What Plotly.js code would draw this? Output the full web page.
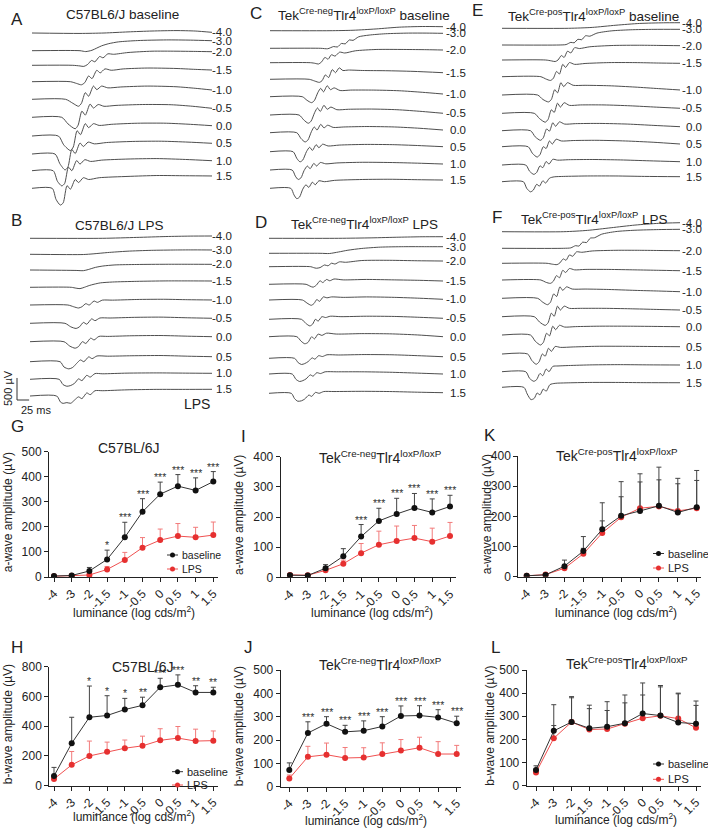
<!DOCTYPE html>
<html><head><meta charset="utf-8">
<script src="https://cdn.plot.ly/plotly-3.0.1.min.js"></script>
<style>html,body{margin:0;padding:0;background:#fff}#chart{width:708px;height:828px}</style>
</head><body><div id="chart"></div>
<script>
// ================= DATA =================
const luminance = ['-4','-3','-2','-1.5','-1','-0.5','0','0.5','1','1.5'];
const flashLabels = ['-4.0','-3.0','-2.0','-1.5','-1.0','-0.5','0.0','0.5','1.0','1.5'];

// a-wave amplitude (µV), mean and upper SD
const c57_a_base = [4, 6, 24, 70, 158, 260, 330, 362, 345, 380];
const c57_a_base_err = [3, 4, 14, 37, 60, 52, 48, 46, 50, 40];
const c57_a_lps = [3, 5, 8, 30, 68, 117, 147, 163, 158, 167];
const c57_a_lps_err = [2, 3, 5, 12, 30, 40, 44, 50, 40, 52];
const c57_a_stars = ['', '', '', '*', '***', '***', '***', '***', '***', '***'];

const neg_a_base = [7, 6, 30, 70, 135, 187, 210, 230, 215, 235];
const neg_a_base_err = [5, 4, 12, 25, 40, 42, 52, 48, 45, 37];
const neg_a_lps = [8, 7, 23, 45, 80, 108, 120, 130, 118, 137];
const neg_a_lps_err = [4, 3, 5, 12, 32, 45, 50, 42, 45, 45];
const neg_a_stars = ['', '', '', '', '***', '***', '***', '***', '***', '***'];

const pos_a_base = [3, 6, 35, 85, 157, 202, 218, 235, 213, 230];
const pos_a_base_err = [2, 3, 20, 48, 88, 113, 123, 128, 113, 122];
const pos_a_lps = [3, 7, 28, 76, 145, 197, 227, 233, 218, 227];
const pos_a_lps_err = [2, 3, 8, 18, 40, 68, 87, 88, 90, 92];

// b-wave amplitude (µV)
const c57_b_base = [65, 285, 460, 472, 512, 540, 662, 678, 627, 627];
const c57_b_base_err = [58, 175, 210, 133, 75, 55, 60, 67, 45, 35];
const c57_b_lps = [45, 140, 200, 228, 252, 268, 305, 320, 300, 303];
const c57_b_lps_err = [8, 90, 100, 65, 55, 65, 78, 78, 80, 65];
const c57_b_stars = ['', '', '*', '*', '*', '**', '***', '***', '**', '**'];

const neg_b_base = [72, 230, 270, 235, 240, 258, 303, 305, 297, 272];
const neg_b_base_err = [30, 48, 30, 28, 42, 42, 43, 42, 33, 30];
const neg_b_lps = [35, 128, 137, 123, 125, 140, 155, 167, 140, 140];
const neg_b_lps_err = [15, 45, 50, 45, 42, 48, 47, 45, 53, 37];
const neg_b_stars = ['', '***', '***', '***', '***', '***', '***', '***', '***', '***'];

const pos_b_base = [68, 237, 275, 248, 255, 270, 312, 303, 273, 268];
const pos_b_base_err = [18, 113, 110, 100, 108, 122, 132, 130, 127, 98];
const pos_b_lps = [57, 205, 275, 243, 245, 268, 292, 302, 290, 250];
const pos_b_lps_err = [15, 55, 105, 90, 80, 90, 100, 125, 107, 97];

// ERG waveforms: [time (ms), amplitude (µV)] one array per flash intensity (-4.0 ... 1.5)
const ergA = [
 [[0,0],[100,-10],[150,0],[200,25],[250,45],[300,55],[340,45],[375,15]],
 [[0,0],[100,0],[112,-20],[125,10],[135,60],[145,110],[160,160],[180,200],[220,230],[280,245],[330,240],[375,227]],
 [[0,0],[85,0],[100,-15],[108,-25],[116,20],[124,110],[131,80],[141,200],[148,170],[158,260],[170,250],[200,290],[250,320],[300,320],[340,315],[375,309]],
 [[0,0],[80,0],[93,-40],[103,-70],[110,-20],[118,130],[125,70],[135,260],[142,200],[152,290],[165,260],[190,290],[240,310],[300,300],[340,280],[375,265]],
 [[0,0],[70,0],[85,-90],[97,-158],[103,-90],[111,150],[118,70],[128,300],[135,220],[145,300],[158,260],[185,280],[240,300],[300,285],[340,250],[375,211]],
 [[0,0],[62,0],[75,-150],[90,-260],[96,-180],[104,140],[111,50],[121,300],[128,210],[138,290],[150,250],[175,270],[230,290],[290,285],[335,250],[375,204]],
 [[0,0],[55,0],[66,-200],[80,-330],[86,-250],[94,120],[101,30],[111,280],[118,190],[128,280],[140,240],[165,265],[220,290],[280,290],[330,265],[375,234]],
 [[0,0],[48,0],[58,-220],[69,-362],[75,-290],[83,100],[90,10],[100,250],[107,170],[117,270],[130,230],[155,260],[210,285],[270,290],[325,270],[375,243]],
 [[0,0],[44,0],[53,-240],[62,-345],[68,-290],[76,80],[83,0],[93,230],[100,150],[110,250],[122,210],[145,240],[200,265],[260,275],[320,255],[375,227]],
 [[0,0],[42,0],[50,-250],[59,-380],[65,-330],[73,60],[80,-20],[90,200],[97,130],[107,240],[118,200],[140,240],[200,270],[260,290],[320,285],[375,280]]
];
const ergB = [
 [[0,0],[150,0],[220,20],[280,40],[330,50],[375,52]],
 [[0,0],[110,-5],[130,10],[160,40],[200,70],[250,90],[300,98],[340,100],[375,98]],
 [[0,0],[95,-10],[110,-15],[120,10],[135,60],[150,90],[175,115],[220,125],[280,130],[330,130],[375,129]],
 [[0,0],[85,0],[95,-20],[103,-30],[112,0],[122,40],[132,70],[145,100],[170,120],[220,135],[280,145],[330,145],[375,143]],
 [[0,0],[78,0],[90,-40],[100,-68],[107,-40],[115,30],[122,0],[132,90],[139,60],[149,110],[170,110],[220,125],[275,130],[325,120],[375,114]],
 [[0,0],[72,0],[84,-80],[95,-117],[102,-80],[110,20],[117,-20],[127,100],[134,60],[144,120],[165,120],[215,135],[270,140],[325,125],[375,114]],
 [[0,0],[70,0],[82,-100],[93,-147],[100,-110],[108,0],[115,-40],[125,80],[132,40],[142,120],[160,120],[210,135],[270,140],[325,125],[375,114]],
 [[0,0],[62,0],[70,-120],[80,-163],[88,-130],[96,-40],[104,40],[111,0],[121,110],[128,70],[138,130],[160,125],[210,135],[270,140],[325,125],[375,114]],
 [[0,0],[60,0],[68,-120],[76,-158],[84,-140],[92,-90],[100,10],[107,-30],[117,90],[124,50],[134,130],[150,125],[200,140],[260,145],[320,140],[375,136]],
 [[0,0],[55,0],[63,-140],[68,-167],[76,-150],[84,-165],[92,-90],[100,-20],[107,-60],[117,70],[124,30],[134,120],[150,120],[200,140],[260,150],[320,150],[375,152]]
];
const ergC = [
 [[0,0],[130,0],[180,10],[230,40],[280,80],[330,95],[375,91]],
 [[0,0],[110,0],[125,-10],[138,40],[146,30],[155,110],[163,100],[172,190],[180,180],[192,260],[215,300],[250,330],[300,345],[340,345],[375,340]],
 [[0,0],[88,0],[98,-15],[105,-30],[112,20],[119,120],[126,80],[133,180],[141,150],[151,240],[162,220],[185,270],[230,300],[290,300],[340,295],[375,288]],
 [[0,0],[85,0],[97,-40],[107,-70],[113,-30],[120,100],[127,40],[135,220],[142,150],[150,260],[158,200],[170,210],[200,200],[250,195],[310,180],[375,150]],
 [[0,0],[70,0],[80,-80],[90,-135],[96,-90],[104,100],[110,190],[116,110],[124,250],[131,160],[139,200],[152,140],[175,150],[225,150],[280,135],[330,100],[375,61]],
 [[0,0],[63,0],[73,-110],[83,-187],[89,-140],[97,60],[103,160],[109,80],[117,220],[124,130],[132,180],[145,120],[170,130],[220,135],[275,120],[330,80],[375,39]],
 [[0,0],[58,0],[67,-130],[76,-210],[82,-170],[90,30],[96,130],[102,60],[110,190],[117,110],[125,170],[137,120],[160,130],[210,140],[270,130],[325,100],[375,61]],
 [[0,0],[50,0],[58,-150],[65,-230],[71,-190],[79,0],[86,100],[92,30],[100,160],[106,90],[114,170],[126,130],[150,150],[205,165],[265,160],[320,140],[375,114]],
 [[0,0],[48,0],[55,-140],[61,-215],[67,-180],[74,-10],[81,90],[87,30],[95,150],[101,90],[109,170],[121,140],[145,160],[200,175],[260,170],[320,155],[375,136]],
 [[0,0],[45,0],[52,-150],[58,-235],[64,-200],[71,-20],[78,80],[84,20],[92,140],[98,80],[106,170],[118,150],[140,180],[200,200],[260,205],[320,195],[375,188]]
];
const ergD = [
 [[0,0],[150,0],[220,10],[280,25],[330,35],[375,36]],
 [[0,0],[110,0],[130,-5],[150,30],[170,70],[200,110],[240,140],[290,150],[340,150],[375,150]],
 [[0,0],[90,0],[96,-20],[102,-35],[110,-20],[120,40],[127,20],[135,80],[142,60],[152,110],[165,100],[200,140],[260,145],[320,135],[375,129]],
 [[0,0],[80,0],[88,-40],[95,-65],[102,-20],[110,80],[116,40],[124,110],[131,80],[140,120],[160,100],[210,110],[270,100],[325,90],[375,75]],
 [[0,0],[72,0],[82,-70],[91,-120],[97,-80],[103,10],[109,-30],[117,70],[125,50],[135,70],[160,60],[210,70],[270,60],[325,40],[375,16]],
 [[0,0],[70,0],[79,-90],[88,-150],[94,-110],[100,0],[106,-40],[114,60],[122,40],[132,70],[155,60],[210,70],[270,65],[325,45],[375,23]],
 [[0,0],[60,0],[69,-100],[77,-160],[84,-130],[92,0],[98,-50],[106,60],[114,30],[124,80],[145,60],[200,70],[260,65],[320,40],[375,0]],
 [[0,0],[55,0],[63,-100],[70,-140],[77,-120],[85,-70],[93,10],[99,-20],[107,60],[115,40],[125,80],[150,75],[205,85],[265,80],[320,60],[375,36]],
 [[0,0],[50,0],[58,-120],[66,-170],[73,-150],[80,-110],[89,-20],[95,-50],[103,30],[111,10],[121,50],[145,50],[200,50],[260,40],[320,20],[375,0]],
 [[0,0],[48,0],[55,-120],[62,-180],[70,-170],[77,-130],[86,-40],[92,-70],[100,20],[108,0],[118,40],[140,40],[200,45],[260,40],[320,25],[375,14]]
];
const ergE = [
 [[0,0],[140,0],[190,20],[240,70],[290,110],[340,125],[375,127]],
 [[0,0],[120,0],[135,10],[145,60],[152,50],[160,130],[168,120],[176,210],[185,200],[200,270],[230,320],[270,345],[320,355],[375,356]],
 [[0,0],[92,0],[104,-20],[112,-35],[118,0],[125,100],[131,60],[138,200],[145,160],[153,280],[163,260],[185,300],[235,330],[290,335],[335,330],[375,325]],
 [[0,0],[82,0],[92,-50],[102,-85],[108,-40],[115,120],[121,60],[128,280],[134,210],[142,320],[153,280],[175,300],[225,320],[280,320],[330,310],[375,304]],
 [[0,0],[75,0],[86,-100],[98,-157],[104,-100],[111,120],[117,50],[124,280],[130,190],[138,280],[150,220],[175,220],[225,210],[280,180],[330,145],[375,114]],
 [[0,0],[68,0],[79,-120],[91,-202],[97,-140],[104,80],[110,20],[117,230],[123,140],[131,240],[142,180],[165,190],[215,190],[270,170],[325,140],[375,114]],
 [[0,0],[60,0],[70,-140],[81,-218],[87,-160],[94,40],[100,-10],[107,180],[113,100],[121,200],[132,150],[155,160],[205,165],[265,150],[320,120],[375,91]],
 [[0,0],[55,0],[64,-150],[74,-235],[80,-180],[87,0],[93,-40],[100,130],[106,60],[114,170],[125,130],[150,140],[200,145],[260,130],[320,100],[375,61]],
 [[0,0],[50,0],[58,-140],[67,-213],[73,-170],[80,-20],[86,-60],[93,80],[99,20],[107,130],[117,110],[140,120],[190,125],[250,115],[310,95],[375,75]],
 [[0,0],[45,0],[52,-150],[60,-230],[66,-190],[73,-60],[79,-100],[86,20],[92,-30],[100,80],[110,110],[130,120],[180,130],[240,130],[300,120],[375,114]]
];
const ergF = [
 [[0,0],[130,0],[180,30],[230,90],[280,150],[330,190],[375,204]],
 [[0,0],[130,0],[145,10],[155,60],[162,50],[170,140],[178,130],[186,230],[195,240],[210,320],[240,380],[280,410],[330,425],[375,431]],
 [[0,0],[95,0],[106,-20],[116,-30],[122,10],[129,100],[135,70],[142,190],[149,160],[157,260],[168,250],[190,280],[240,295],[290,295],[335,290],[375,286]],
 [[0,0],[82,0],[92,-50],[102,-76],[108,-30],[115,100],[121,50],[128,220],[134,170],[142,260],[153,230],[175,240],[225,240],[280,230],[330,220],[375,211]],
 [[0,0],[75,0],[86,-90],[96,-145],[102,-90],[109,100],[115,40],[122,260],[128,180],[136,260],[148,210],[175,210],[225,200],[280,180],[330,165],[375,150]],
 [[0,0],[68,0],[79,-120],[91,-197],[97,-140],[104,80],[110,10],[117,240],[123,150],[131,240],[142,190],[165,190],[215,190],[270,180],[325,165],[375,152]],
 [[0,0],[60,0],[70,-140],[81,-227],[87,-170],[94,40],[100,-20],[107,200],[113,120],[121,220],[132,180],[155,190],[205,200],[265,200],[320,195],[375,188]],
 [[0,0],[54,0],[63,-150],[72,-233],[78,-180],[85,0],[91,-50],[98,130],[104,60],[112,170],[123,150],[150,160],[200,175],[260,175],[320,170],[375,166]],
 [[0,0],[50,0],[58,-150],[67,-218],[73,-180],[80,-40],[86,-90],[93,60],[99,0],[107,120],[118,130],[140,140],[190,155],[250,160],[310,155],[375,152]],
 [[0,0],[46,0],[53,-150],[61,-280],[68,-250],[74,-130],[80,-170],[87,-40],[93,-90],[101,60],[112,90],[135,100],[185,110],[245,110],[305,105],[375,104]]
];

// ================= LAYOUT / STYLE =================
const W = 708, H = 828;
const FONT = 'Arial, "Liberation Sans", sans-serif';
const fx = px => px / W;
const fy = px => 1 - px / H;
const UV_PER_PX = 22.7;   // trace vertical scale
const T_END = 375;        // ms shown per trace row
const TEK_NEG = 'Tek<sup>Cre-neg</sup>Tlr4<sup>loxP/loxP</sup>';
const TEK_POS = 'Tek<sup>Cre-pos</sup>Tlr4<sup>loxP/loxP</sup>';

const ergPanels = [
 {wave: ergA, letter:'A', letterXY:[9,20], title:'C57BL6/J baseline', titleXY:[122,15],
  x0:32, x1:212, xL:20, top:15, bottom:212, labelRight:234,
  rows:[33,50.7,65.3,81.7,99.3,117.3,136,154,170.7,188.3]},
 {wave: ergB, letter:'B', letterXY:[9,220], title:'C57BL6/J LPS', titleXY:[119,225],
  x0:30, x1:212, xL:5, top:225, bottom:418, labelRight:234,
  rows:[238.3,254.3,270,287.3,305,323.3,341.7,361.7,379.3,396]},
 {wave: ergC, letter:'C', letterXY:[248,14], title: TEK_NEG + ' baseline', titleXY:[364,14],
  x0:270, x1:443, xL:260, top:15, bottom:212, labelRight:468,
  rows:[30.7,48.3,62.7,79.3,96.7,115,132.7,151.7,170,188.3]},
 {wave: ergD, letter:'D', letterXY:[253,222], title: TEK_NEG + ' LPS', titleXY:[364,223],
  x0:269, x1:443, xL:260, top:225, bottom:418, labelRight:468,
  rows:[238.3,253.3,266.7,284.3,300,319.3,336.7,358.3,374,393.3]},
 {wave: ergE, letter:'E', letterXY:[470,11], title: TEK_POS + ' baseline', titleXY:[593,15],
  x0:502, x1:680, xL:492, top:10, bottom:212, labelRight:704,
  rows:[28.3,45,60,76.7,95,113.3,130.7,146.7,165,181.7]},
 {wave: ergF, letter:'F', letterXY:[490,217], title: TEK_POS + ' LPS', titleXY:[594,218],
  x0:502, x1:680, xL:492, top:215, bottom:418, labelRight:704,
  rows:[231.7,248.3,263.3,280,298.3,316.7,335,354,371.7,387.3]}
];

const charts = [
 {letter:'G', title:'C57BL/6J', titleXY:[128,448], letterXY:[9,427],
  base:c57_a_base, baseErr:c57_a_base_err, lps:c57_a_lps, lpsErr:c57_a_lps_err, stars:c57_a_stars,
  yMax:500, dtick:100, yTitle:'a-wave amplitude (µV)', yTitleX:8,
  box:{axisX:49, firstX:54, lastX:213.3, rightX:218, y0:577, yTop:451.5}, xTitleXY:[134,612],
  legend:{x:167, y1:555, y2:569, size:10.5}, lpsErrColor:'#f27a7a'},
 {letter:'I', title:TEK_NEG, titleXY:[380,457], letterXY:[239,436],
  base:neg_a_base, baseErr:neg_a_base_err, lps:neg_a_lps, lpsErr:neg_a_lps_err, stars:neg_a_stars,
  yMax:400, dtick:100, yTitle:'a-wave amplitude (µV)', yTitleX:239,
  box:{axisX:280.7, firstX:290, lastX:450, rightX:456, y0:577.3, yTop:456.7}, xTitleXY:[372,612],
  legend:null, lpsErrColor:'#f27a7a'},
 {letter:'K', title:TEK_POS, titleXY:[617,455], letterXY:[482,435],
  base:pos_a_base, baseErr:pos_a_base_err, lps:pos_a_lps, lpsErr:pos_a_lps_err, stars:null,
  yMax:400, dtick:100, yTitle:'a-wave amplitude (µV)', yTitleX:487,
  box:{axisX:518.3, firstX:526.7, lastX:696.7, rightX:701, y0:576.7, yTop:456}, xTitleXY:[616,612],
  legend:{x:653, y1:553.5, y2:568, size:11}, lpsErrColor:'#444'},
 {letter:'H', title:'C57BL/6J', titleXY:[142,667], letterXY:[9,647],
  base:c57_b_base, baseErr:c57_b_base_err, lps:c57_b_lps, lpsErr:c57_b_lps_err, stars:c57_b_stars,
  yMax:800, dtick:200, yTitle:'b-wave amplitude (µV)', yTitleX:8,
  box:{axisX:49.3, firstX:54, lastX:213.3, rightX:218, y0:785.7, yTop:666.7}, xTitleXY:[134,816],
  legend:{x:172, y1:771.7, y2:785, size:11}, lpsErrColor:'#f27a7a'},
 {letter:'J', title:TEK_NEG, titleXY:[380,664], letterXY:[242,647],
  base:neg_b_base, baseErr:neg_b_base_err, lps:neg_b_lps, lpsErr:neg_b_lps_err, stars:neg_b_stars,
  yMax:500, dtick:100, yTitle:'b-wave amplitude (µV)', yTitleX:239,
  box:{axisX:280.7, firstX:289.3, lastX:456.7, rightX:461, y0:786.7, yTop:670}, xTitleXY:[366,820],
  legend:null, lpsErrColor:'#f27a7a'},
 {letter:'L', title:TEK_POS, titleXY:[627,663], letterXY:[489,647],
  base:pos_b_base, baseErr:pos_b_base_err, lps:pos_b_lps, lpsErr:pos_b_lps_err, stars:null,
  yMax:500, dtick:100, yTitle:'b-wave amplitude (µV)', yTitleX:490,
  box:{axisX:526.7, firstX:536, lastX:696, rightX:701, y0:785.7, yTop:670}, xTitleXY:[616,819],
  legend:{x:653, y1:764, y2:779.3, size:11}, lpsErrColor:'#444'}
];

// ================= BUILD =================
const data = [], annotations = [], shapes = [];
const layout = {
  width: W, height: H, margin:{l:0,r:0,t:0,b:0},
  paper_bgcolor:'#fff', plot_bgcolor:'rgba(0,0,0,0)',
  showlegend:false, font:{family:FONT, color:'#222'}
};
const axKey = (k, t) => k === 1 ? t + 'axis' : t + 'axis' + k;
const axRef = (k, t) => k === 1 ? t : t + k;
const paperText = (text, x, y, size, opts) => Object.assign({
  xref:'paper', yref:'paper', x:fx(x), y:fy(y), text, showarrow:false,
  xanchor:'center', yanchor:'middle', font:{family:FONT, size, color:'#222'}
}, opts || {});

// ERG trace panels
ergPanels.forEach((p, j) => {
  const k = j + 1;
  const mpp = T_END / (p.x1 - p.x0);
  const xR = p.labelRight + 3;
  layout[axKey(k,'x')] = {domain:[fx(p.xL), fx(xR)], range:[(p.xL - p.x0) * mpp, (xR - p.x0) * mpp], visible:false};
  layout[axKey(k,'y')] = {domain:[fy(p.bottom), fy(p.top)], range:[-(p.bottom - p.top) * UV_PER_PX, 0], visible:false};
  p.wave.forEach((w, i) => {
    const off = -(p.rows[i] - p.top) * UV_PER_PX;
    data.push({x:w.map(d => d[0]), y:w.map(d => d[1] + off), xaxis:axRef(k,'x'), yaxis:axRef(k,'y'),
      mode:'lines', line:{color:'#444', width:0.95, shape:'spline', smoothing:0.7}, hoverinfo:'skip'});
    annotations.push({xref:axRef(k,'x'), yref:axRef(k,'y'), x:(p.labelRight - p.x0) * mpp,
      y:w[w.length - 1][1] + off, text:flashLabels[i], showarrow:false, xanchor:'right', yanchor:'middle',
      font:{family:FONT, size:11.5, color:'#222'}});
  });
  annotations.push(paperText(p.letter, p.letterXY[0], p.letterXY[1], 17, {xanchor:'left'}));
  annotations.push(paperText(p.title, p.titleXY[0], p.titleXY[1], 13.5));
  if (p.letter === 'B') {
    // calibration bar: 500 µV x 25 ms
    const tb = (17 - p.x0) * mpp, yb = -(400 - p.top) * UV_PER_PX;
    shapes.push({type:'line', xref:axRef(k,'x'), yref:axRef(k,'y'), x0:tb, x1:tb, y0:yb, y1:yb + 500, line:{color:'#333', width:1}});
    shapes.push({type:'line', xref:axRef(k,'x'), yref:axRef(k,'y'), x0:tb, x1:tb + 25, y0:yb, y1:yb, line:{color:'#333', width:1}});
    annotations.push(paperText('500 µV', 8, 388, 11, {textangle:-90}));
    annotations.push(paperText('25 ms', 36, 410, 11));
    annotations.push(paperText('LPS', 197, 404, 14));
  }
});

// Amplitude charts
charts.forEach((c, j) => {
  const k = j + 7;
  const b = c.box;
  const unit = (b.lastX - b.firstX) / 9;
  const xa = axRef(k,'x'), ya = axRef(k,'y');
  layout[axKey(k,'x')] = {
    domain:[fx(b.axisX), fx(b.rightX)], anchor:ya, type:'category',
    range:[(b.axisX - b.firstX) / unit, 9 + (b.rightX - b.lastX) / unit],
    showline:true, linecolor:'#222', linewidth:1, ticks:'outside', ticklen:4, tickcolor:'#222',
    tickangle:-45, tickfont:{family:FONT, size:12, color:'#222'}, showgrid:false, zeroline:false
  };
  layout[axKey(k,'y')] = {
    domain:[fy(b.y0), fy(b.yTop)], anchor:xa, range:[0, c.yMax], dtick:c.dtick,
    showline:true, linecolor:'#222', linewidth:1, ticks:'outside', ticklen:4, tickcolor:'#222',
    tickfont:{family:FONT, size:12, color:'#222'}, showgrid:false, zeroline:false
  };
  const zeros = c.base.map(() => 0);
  data.push({x:luminance, y:c.lps, xaxis:xa, yaxis:ya, mode:'lines+markers', name:'LPS',
    line:{color:'#f05050', width:1}, marker:{color:'#e63030', size:6},
    error_y:{type:'data', symmetric:false, array:c.lpsErr, arrayminus:zeros, color:c.lpsErrColor, thickness:1, width:2.5},
    hoverinfo:'skip'});
  data.push({x:luminance, y:c.base, xaxis:xa, yaxis:ya, mode:'lines+markers', name:'baseline',
    line:{color:'#333', width:1}, marker:{color:'#111', size:6},
    error_y:{type:'data', symmetric:false, array:c.baseErr, arrayminus:zeros, color:'#444', thickness:1, width:2.5},
    hoverinfo:'skip'});
  if (c.stars) {
    c.stars.forEach((s, i) => {
      if (!s) return;
      annotations.push({xref:xa, yref:ya, x:i, y:c.base[i] + c.baseErr[i], text:s,
        showarrow:false, xanchor:'center', yanchor:'bottom', yshift:-3,
        font:{family:FONT, size:10.5, color:'#333'}});
    });
  }
  annotations.push(paperText(c.letter, c.letterXY[0], c.letterXY[1], 17, {xanchor:'left'}));
  annotations.push(paperText(c.title, c.titleXY[0], c.titleXY[1], 14));
  annotations.push(paperText(c.yTitle, c.yTitleX, (b.y0 + b.yTop) / 2 - 2, 12, {textangle:-90}));
  annotations.push(paperText('luminance (log cds/m<sup>2</sup>)', c.xTitleXY[0], c.xTitleXY[1], 12));
  if (c.legend) {
    const L = c.legend;
    [[L.y1, '#333', '#111', 'baseline'], [L.y2, '#f05050', '#e63030', 'LPS']].forEach(([yy, lc, mc, txt]) => {
      shapes.push({type:'line', xref:'paper', yref:'paper', x0:fx(L.x), x1:fx(L.x + 11), y0:fy(yy), y1:fy(yy), line:{color:lc, width:1}});
      shapes.push({type:'circle', xref:'paper', yref:'paper', x0:fx(L.x + 3), x1:fx(L.x + 8), y0:fy(yy + 2.5), y1:fy(yy - 2.5), fillcolor:mc, line:{color:mc, width:0}});
      annotations.push(paperText(txt, L.x + 13, yy, L.size, {xanchor:'left'}));
    });
  }
});

layout.annotations = annotations;
layout.shapes = shapes;
Plotly.newPlot('chart', data, layout, {staticPlot:true, displayModeBar:false});
</script>
</body></html>
